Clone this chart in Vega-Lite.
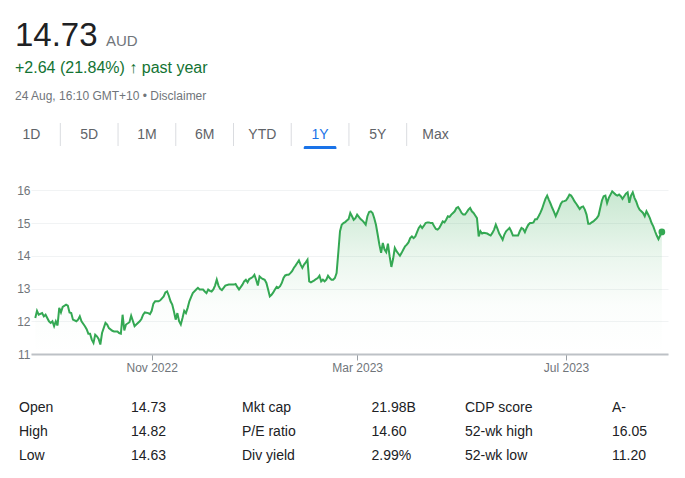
{
  "$schema": "https://vega.github.io/schema/vega-lite/v6.json",
  "background": "white",
  "padding": {"left": 15, "top": 0, "right": 0, "bottom": 0},
  "bounds": "flush",
  "spacing": 0,
  "config": {
    "view": {"stroke": null},
    "font": "Liberation Sans"
  },
  "datasets": {
    "tabs": [
      {"tab": "1D"}, {"tab": "5D"}, {"tab": "1M"}, {"tab": "6M"},
      {"tab": "YTD"}, {"tab": "1Y"}, {"tab": "5Y"}, {"tab": "Max"}
    ],
    "prices": [
      {"date":"2022-08-25","price":12.10},{"date":"2022-08-26","price":12.32},{"date":"2022-08-27","price":12.20},{"date":"2022-08-29","price":12.25},{"date":"2022-08-30","price":12.15},{"date":"2022-08-31","price":12.20},
      {"date":"2022-09-02","price":12.00},{"date":"2022-09-03","price":11.95},{"date":"2022-09-04","price":12.00},{"date":"2022-09-05","price":11.85},{"date":"2022-09-06","price":12.00},{"date":"2022-09-07","price":11.87},{"date":"2022-09-08","price":12.41},{"date":"2022-09-09","price":12.27},{"date":"2022-09-10","price":12.44},{"date":"2022-09-12","price":12.51},{"date":"2022-09-13","price":12.48},{"date":"2022-09-14","price":12.27},{"date":"2022-09-15","price":12.25},{"date":"2022-09-16","price":12.05},{"date":"2022-09-18","price":12.00},{"date":"2022-09-19","price":12.05},{"date":"2022-09-20","price":12.15},{"date":"2022-09-21","price":12.00},{"date":"2022-09-23","price":11.85},{"date":"2022-09-24","price":11.76},{"date":"2022-09-25","price":11.62},{"date":"2022-09-26","price":11.62},{"date":"2022-09-27","price":11.44},{"date":"2022-09-28","price":11.34},{"date":"2022-09-29","price":11.59},{"date":"2022-09-30","price":11.54},
      {"date":"2022-10-01","price":11.46},{"date":"2022-10-02","price":11.29},{"date":"2022-10-03","price":11.64},{"date":"2022-10-05","price":11.95},{"date":"2022-10-06","price":11.90},{"date":"2022-10-07","price":11.79},{"date":"2022-10-09","price":11.71},{"date":"2022-10-10","price":11.69},{"date":"2022-10-12","price":11.69},{"date":"2022-10-13","price":11.64},{"date":"2022-10-14","price":11.62},{"date":"2022-10-15","price":12.20},{"date":"2022-10-16","price":11.72},{"date":"2022-10-17","price":11.90},{"date":"2022-10-19","price":11.97},{"date":"2022-10-20","price":12.17},{"date":"2022-10-22","price":11.85},{"date":"2022-10-23","price":11.90},{"date":"2022-10-25","price":12.00},{"date":"2022-10-26","price":12.07},{"date":"2022-10-27","price":12.20},{"date":"2022-10-28","price":12.27},{"date":"2022-10-30","price":12.25},{"date":"2022-10-31","price":12.22},
      {"date":"2022-11-01","price":12.32},{"date":"2022-11-02","price":12.54},{"date":"2022-11-03","price":12.61},{"date":"2022-11-05","price":12.61},{"date":"2022-11-06","price":12.64},{"date":"2022-11-08","price":12.76},{"date":"2022-11-09","price":12.88},{"date":"2022-11-10","price":12.91},{"date":"2022-11-11","price":12.78},{"date":"2022-11-12","price":12.61},{"date":"2022-11-13","price":12.51},{"date":"2022-11-14","price":12.30},{"date":"2022-11-15","price":12.05},{"date":"2022-11-16","price":12.25},{"date":"2022-11-17","price":12.00},{"date":"2022-11-18","price":11.90},{"date":"2022-11-19","price":12.10},{"date":"2022-11-20","price":12.32},{"date":"2022-11-21","price":12.25},{"date":"2022-11-22","price":12.41},{"date":"2022-11-23","price":12.61},{"date":"2022-11-24","price":12.74},{"date":"2022-11-25","price":12.86},{"date":"2022-11-27","price":12.97},{"date":"2022-11-28","price":13.02},{"date":"2022-11-29","price":12.97},
      {"date":"2022-12-01","price":12.97},{"date":"2022-12-02","price":12.91},{"date":"2022-12-03","price":12.86},{"date":"2022-12-04","price":12.97},{"date":"2022-12-05","price":12.93},{"date":"2022-12-06","price":12.91},{"date":"2022-12-07","price":12.97},{"date":"2022-12-08","price":13.09},{"date":"2022-12-09","price":13.27},{"date":"2022-12-10","price":13.09},{"date":"2022-12-11","price":12.99},{"date":"2022-12-12","price":12.95},{"date":"2022-12-13","price":13.02},{"date":"2022-12-14","price":13.09},{"date":"2022-12-16","price":13.12},{"date":"2022-12-17","price":13.12},{"date":"2022-12-19","price":13.12},{"date":"2022-12-20","price":13.14},{"date":"2022-12-21","price":13.05},{"date":"2022-12-22","price":12.97},{"date":"2022-12-24","price":13.12},{"date":"2022-12-25","price":13.22},{"date":"2022-12-26","price":13.27},{"date":"2022-12-27","price":13.19},{"date":"2022-12-28","price":13.29},{"date":"2022-12-29","price":13.32},{"date":"2022-12-30","price":13.35},{"date":"2022-12-31","price":13.42},
      {"date":"2023-01-01","price":13.27},{"date":"2023-01-02","price":13.09},{"date":"2023-01-03","price":13.37},{"date":"2023-01-04","price":13.32},{"date":"2023-01-05","price":13.29},{"date":"2023-01-06","price":13.27},{"date":"2023-01-07","price":13.17},{"date":"2023-01-08","price":12.97},{"date":"2023-01-09","price":12.76},{"date":"2023-01-10","price":12.81},{"date":"2023-01-11","price":12.88},{"date":"2023-01-12","price":12.97},{"date":"2023-01-13","price":13.05},{"date":"2023-01-14","price":13.02},{"date":"2023-01-15","price":13.07},{"date":"2023-01-16","price":13.17},{"date":"2023-01-17","price":13.32},{"date":"2023-01-18","price":13.40},{"date":"2023-01-19","price":13.42},{"date":"2023-01-20","price":13.42},{"date":"2023-01-21","price":13.47},{"date":"2023-01-22","price":13.53},{"date":"2023-01-23","price":13.63},{"date":"2023-01-24","price":13.70},{"date":"2023-01-25","price":13.78},{"date":"2023-01-26","price":13.86},{"date":"2023-01-27","price":13.73},{"date":"2023-01-28","price":13.63},{"date":"2023-01-29","price":13.73},{"date":"2023-01-30","price":13.80},{"date":"2023-01-31","price":13.88},
      {"date":"2023-02-01","price":13.22},{"date":"2023-02-02","price":13.19},{"date":"2023-02-03","price":13.22},{"date":"2023-02-04","price":13.25},{"date":"2023-02-05","price":13.29},{"date":"2023-02-06","price":13.32},{"date":"2023-02-07","price":13.39},{"date":"2023-02-08","price":13.22},{"date":"2023-02-09","price":13.27},{"date":"2023-02-10","price":13.22},{"date":"2023-02-11","price":13.27},{"date":"2023-02-12","price":13.39},{"date":"2023-02-13","price":13.32},{"date":"2023-02-14","price":13.27},{"date":"2023-02-15","price":13.27},{"date":"2023-02-16","price":13.32},{"date":"2023-02-17","price":13.47},{"date":"2023-02-18","price":14.10},{"date":"2023-02-19","price":14.75},{"date":"2023-02-20","price":14.95},{"date":"2023-02-21","price":15.00},{"date":"2023-02-22","price":15.03},{"date":"2023-02-23","price":15.08},{"date":"2023-02-24","price":15.12},{"date":"2023-02-25","price":15.31},{"date":"2023-02-26","price":15.21},{"date":"2023-02-27","price":15.10},{"date":"2023-02-28","price":15.15},
      {"date":"2023-03-01","price":15.26},{"date":"2023-03-02","price":15.19},{"date":"2023-03-03","price":15.12},{"date":"2023-03-04","price":15.08},{"date":"2023-03-05","price":15.02},{"date":"2023-03-06","price":14.95},{"date":"2023-03-07","price":15.21},{"date":"2023-03-08","price":15.34},{"date":"2023-03-09","price":15.36},{"date":"2023-03-10","price":15.31},{"date":"2023-03-11","price":15.15},{"date":"2023-03-12","price":14.95},{"date":"2023-03-13","price":14.65},{"date":"2023-03-14","price":14.34},{"date":"2023-03-15","price":14.09},{"date":"2023-03-16","price":14.39},{"date":"2023-03-17","price":14.19},{"date":"2023-03-18","price":14.11},{"date":"2023-03-19","price":14.37},{"date":"2023-03-20","price":13.98},{"date":"2023-03-21","price":13.66},{"date":"2023-03-22","price":13.90},{"date":"2023-03-23","price":14.24},{"date":"2023-03-24","price":14.14},{"date":"2023-03-25","price":14.07},{"date":"2023-03-26","price":14.00},{"date":"2023-03-27","price":14.09},{"date":"2023-03-28","price":14.19},{"date":"2023-03-29","price":14.29},{"date":"2023-03-30","price":14.34},{"date":"2023-03-31","price":14.41},
      {"date":"2023-04-01","price":14.54},{"date":"2023-04-02","price":14.59},{"date":"2023-04-03","price":14.54},{"date":"2023-04-04","price":14.59},{"date":"2023-04-05","price":14.72},{"date":"2023-04-06","price":14.85},{"date":"2023-04-07","price":14.92},{"date":"2023-04-08","price":14.85},{"date":"2023-04-09","price":14.92},{"date":"2023-04-10","price":15.00},{"date":"2023-04-11","price":15.02},{"date":"2023-04-12","price":15.02},{"date":"2023-04-13","price":15.00},{"date":"2023-04-14","price":15.00},{"date":"2023-04-15","price":14.90},{"date":"2023-04-16","price":14.82},{"date":"2023-04-17","price":14.80},{"date":"2023-04-18","price":14.85},{"date":"2023-04-19","price":14.95},{"date":"2023-04-20","price":15.05},{"date":"2023-04-21","price":15.02},{"date":"2023-04-22","price":15.10},{"date":"2023-04-23","price":15.21},{"date":"2023-04-24","price":15.19},{"date":"2023-04-25","price":15.26},{"date":"2023-04-26","price":15.31},{"date":"2023-04-27","price":15.36},{"date":"2023-04-28","price":15.46},{"date":"2023-04-29","price":15.49},{"date":"2023-04-30","price":15.41},
      {"date":"2023-05-01","price":15.31},{"date":"2023-05-02","price":15.26},{"date":"2023-05-03","price":15.26},{"date":"2023-05-04","price":15.33},{"date":"2023-05-05","price":15.41},{"date":"2023-05-06","price":15.46},{"date":"2023-05-07","price":15.36},{"date":"2023-05-08","price":15.31},{"date":"2023-05-09","price":15.23},{"date":"2023-05-10","price":15.15},{"date":"2023-05-11","price":14.59},{"date":"2023-05-12","price":14.75},{"date":"2023-05-13","price":14.68},{"date":"2023-05-14","price":14.70},{"date":"2023-05-16","price":14.68},{"date":"2023-05-17","price":14.65},{"date":"2023-05-18","price":14.62},{"date":"2023-05-19","price":14.70},{"date":"2023-05-20","price":14.80},{"date":"2023-05-21","price":14.95},{"date":"2023-05-22","price":14.82},{"date":"2023-05-23","price":14.68},{"date":"2023-05-24","price":14.59},{"date":"2023-05-25","price":14.49},{"date":"2023-05-26","price":14.65},{"date":"2023-05-27","price":14.75},{"date":"2023-05-28","price":14.80},{"date":"2023-05-29","price":14.85},{"date":"2023-05-30","price":14.75},{"date":"2023-05-31","price":14.62},
      {"date":"2023-06-01","price":14.62},{"date":"2023-06-02","price":14.62},{"date":"2023-06-03","price":14.62},{"date":"2023-06-04","price":14.75},{"date":"2023-06-05","price":14.85},{"date":"2023-06-06","price":14.82},{"date":"2023-06-07","price":14.72},{"date":"2023-06-08","price":14.85},{"date":"2023-06-09","price":14.95},{"date":"2023-06-10","price":15.00},{"date":"2023-06-11","price":15.00},{"date":"2023-06-12","price":15.02},{"date":"2023-06-13","price":15.12},{"date":"2023-06-14","price":15.12},{"date":"2023-06-15","price":15.21},{"date":"2023-06-16","price":15.31},{"date":"2023-06-17","price":15.43},{"date":"2023-06-18","price":15.59},{"date":"2023-06-19","price":15.74},{"date":"2023-06-20","price":15.84},{"date":"2023-06-21","price":15.71},{"date":"2023-06-22","price":15.59},{"date":"2023-06-23","price":15.46},{"date":"2023-06-24","price":15.34},{"date":"2023-06-25","price":15.21},{"date":"2023-06-26","price":15.33},{"date":"2023-06-27","price":15.46},{"date":"2023-06-28","price":15.59},{"date":"2023-06-29","price":15.66},{"date":"2023-06-30","price":15.67},
      {"date":"2023-07-01","price":15.69},{"date":"2023-07-02","price":15.77},{"date":"2023-07-03","price":15.87},{"date":"2023-07-04","price":15.84},{"date":"2023-07-05","price":15.76},{"date":"2023-07-06","price":15.66},{"date":"2023-07-07","price":15.59},{"date":"2023-07-08","price":15.51},{"date":"2023-07-09","price":15.43},{"date":"2023-07-10","price":15.49},{"date":"2023-07-11","price":15.51},{"date":"2023-07-12","price":15.41},{"date":"2023-07-13","price":15.26},{"date":"2023-07-14","price":14.98},{"date":"2023-07-15","price":14.98},{"date":"2023-07-16","price":15.02},{"date":"2023-07-17","price":15.05},{"date":"2023-07-18","price":15.10},{"date":"2023-07-19","price":15.15},{"date":"2023-07-20","price":15.23},{"date":"2023-07-21","price":15.46},{"date":"2023-07-22","price":15.69},{"date":"2023-07-23","price":15.82},{"date":"2023-07-24","price":15.84},{"date":"2023-07-25","price":15.61},{"date":"2023-07-26","price":15.77},{"date":"2023-07-27","price":15.87},{"date":"2023-07-28","price":15.97},{"date":"2023-07-29","price":15.92},{"date":"2023-07-30","price":15.87},{"date":"2023-07-31","price":15.84},
      {"date":"2023-08-01","price":15.87},{"date":"2023-08-02","price":15.82},{"date":"2023-08-03","price":15.74},{"date":"2023-08-04","price":15.82},{"date":"2023-08-05","price":15.90},{"date":"2023-08-06","price":15.94},{"date":"2023-08-07","price":15.62},{"date":"2023-08-08","price":15.84},{"date":"2023-08-09","price":15.94},{"date":"2023-08-10","price":15.77},{"date":"2023-08-11","price":15.66},{"date":"2023-08-12","price":15.51},{"date":"2023-08-13","price":15.41},{"date":"2023-08-14","price":15.36},{"date":"2023-08-15","price":15.31},{"date":"2023-08-16","price":15.21},{"date":"2023-08-17","price":15.36},{"date":"2023-08-18","price":15.26},{"date":"2023-08-19","price":15.15},{"date":"2023-08-20","price":15.00},{"date":"2023-08-21","price":14.90},{"date":"2023-08-22","price":14.75},{"date":"2023-08-23","price":14.62},{"date":"2023-08-24","price":14.51},{"date":"2023-08-25","price":14.62},{"date":"2023-08-26","price":14.73}
    ],
    "stats": [
      {"col": "c1", "row": "r1", "label": "Open", "value": "14.73"},
      {"col": "c1", "row": "r2", "label": "High", "value": "14.82"},
      {"col": "c1", "row": "r3", "label": "Low", "value": "14.63"},
      {"col": "c2", "row": "r1", "label": "Mkt cap", "value": "21.98B"},
      {"col": "c2", "row": "r2", "label": "P/E ratio", "value": "14.60"},
      {"col": "c2", "row": "r3", "label": "Div yield", "value": "2.99%"},
      {"col": "c3", "row": "r1", "label": "CDP score", "value": "A-"},
      {"col": "c3", "row": "r2", "label": "52-wk high", "value": "16.05"},
      {"col": "c3", "row": "r3", "label": "52-wk low", "value": "11.20"}
    ],
    "header": [
      {"part": "price", "slot": "main", "line": "l1", "text": "14.73"},
      {"part": "currency", "slot": "unit", "line": "l1", "text": "AUD"},
      {"part": "change", "slot": "main", "line": "l2", "text": "+2.64 (21.84%) ↑ past year"},
      {"part": "time", "slot": "main", "line": "l3", "text": "24 Aug, 16:10 GMT+10 • Disclaimer"}
    ]
  },
  "vconcat": [
    {
      "width": 654,
      "height": 123,
      "data": {"name": "header"},
      "encoding": {
        "x": {"field": "slot", "type": "ordinal", "axis": null,
              "scale": {"type": "point", "domain": ["main", "unit"], "range": [-16, 75], "padding": 0}},
        "y": {"field": "line", "type": "ordinal", "axis": null,
              "scale": {"type": "point", "domain": ["l1", "l2", "l3"], "range": [46, 100], "padding": 0}},
        "text": {"field": "text"}
      },
      "layer": [
        {"transform": [{"filter": "datum.part === 'price'"}],
         "mark": {"type": "text", "align": "left", "baseline": "alphabetic", "fontSize": 33, "color": "#202124"}},
        {"transform": [{"filter": "datum.part === 'currency'"}],
         "mark": {"type": "text", "align": "left", "baseline": "alphabetic", "fontSize": 15, "color": "#70757a"}},
        {"transform": [{"filter": "datum.part === 'change'"}],
         "mark": {"type": "text", "align": "left", "baseline": "alphabetic", "fontSize": 16, "color": "#137333"}},
        {"transform": [{"filter": "datum.part === 'time'"}],
         "mark": {"type": "text", "align": "left", "baseline": "alphabetic", "fontSize": 12, "color": "#70757a"}}
      ]
    },
    {
      "width": 654,
      "height": 23,
      "data": {"name": "tabs"},
      "encoding": {
        "x": {"field": "tab", "type": "nominal", "axis": null,
              "scale": {"type": "band", "domain": ["1D", "5D", "1M", "6M", "YTD", "1Y", "5Y", "Max"], "range": [-28.4, 433.4], "paddingInner": 0, "paddingOuter": 0}}
      },
      "layer": [
        {"transform": [{"filter": "datum.tab !== '1D'"}],
         "mark": {"type": "rule", "color": "#dadce0", "strokeWidth": 1},
         "encoding": {"x": {"field": "tab", "type": "nominal", "bandPosition": 0}}},
        {"mark": {"type": "text", "fontSize": 14, "baseline": "middle"},
         "encoding": {
           "text": {"field": "tab"},
           "color": {"condition": {"test": "datum.tab === '1Y'", "value": "#1a73e8"}, "value": "#5f6368"}
         }}
      ]
    },
    {
      "width": 654,
      "height": 3,
      "data": {"name": "tabs"},
      "transform": [{"filter": "datum.tab === '1Y'"}],
      "mark": {"type": "bar", "color": "#1a73e8", "width": {"band": 0.566}, "cornerRadiusTopLeft": 3, "cornerRadiusTopRight": 3},
      "encoding": {
        "x": {"field": "tab", "type": "nominal", "axis": null,
              "scale": {"type": "band", "domain": ["1D", "5D", "1M", "6M", "YTD", "1Y", "5Y", "Max"], "range": [-28.4, 433.4], "paddingInner": 0, "paddingOuter": 0}}
      }
    },
    {
      "width": 637,
      "height": 205,
      "data": {"name": "prices"},
      "encoding": {
        "x": {"field": "date", "type": "temporal",
              "scale": {"domain": [{"year": 2022, "month": 8, "date": 22, "hours": 12}, {"year": 2023, "month": 8, "date": 29, "hours": 14}], "nice": false},
              "axis": {"values": [{"year": 2022, "month": 11, "date": 1}, {"year": 2023, "month": 3, "date": 1}, {"year": 2023, "month": 7, "date": 1}],
                       "format": "%b %Y", "title": null, "grid": false,
                       "domainColor": "#bdc1c6", "domainWidth": 2, "tickColor": "#9aa0a6", "tickSize": 6, "tickWidth": 1,
                       "labelColor": "#70757a", "labelFontSize": 12, "labelPadding": 2, "labelFlush": false}},
        "y": {"field": "price", "type": "quantitative",
              "scale": {"domain": [11, 17.263], "nice": false, "zero": false},
              "axis": {"values": [11, 12, 13, 14, 15, 16], "title": null, "domain": false, "ticks": false, "tickSize": 0,
                       "grid": true, "gridColor": "#f1f3f4", "gridWidth": 1,
                       "labelColor": "#70757a", "labelFontSize": 12, "labelPadding": 1}}
      },
      "layer": [
        {"mark": {"type": "area", "line": false,
                  "color": {"gradient": "linear", "x1": 0, "y1": 0, "x2": 0, "y2": 1,
                            "stops": [{"offset": 0, "color": "rgba(52,168,83,0.27)"},
                                      {"offset": 0.4, "color": "rgba(52,168,83,0.10)"},
                                      {"offset": 0.7, "color": "rgba(52,168,83,0.02)"},
                                      {"offset": 1, "color": "rgba(52,168,83,0)"}]}},
         "encoding": {"y2": {"datum": 11}}},
        {"mark": {"type": "line", "color": "#34a853", "strokeWidth": 2}},
        {"transform": [{"window": [{"op": "row_number", "as": "rn"}], "sort": [{"field": "date", "order": "descending"}]},
                       {"filter": "datum.rn === 1"}],
         "mark": {"type": "point", "filled": true, "size": 45, "color": "#34a853", "opacity": 1}}
      ]
    },
    {
      "width": 654,
      "height": 124,
      "data": {"name": "stats"},
      "encoding": {
        "y": {"field": "row", "type": "ordinal", "axis": null,
              "scale": {"type": "point", "domain": ["r1", "r2", "r3"], "range": [54, 102], "padding": 0}}
      },
      "layer": [
        {"mark": {"type": "text", "align": "left", "baseline": "middle", "fontSize": 14, "color": "#202124"},
         "encoding": {
           "x": {"field": "col", "type": "ordinal", "axis": null,
                 "scale": {"type": "point", "domain": ["c1", "c2", "c3"], "range": [-12, 434], "padding": 0}},
           "text": {"field": "label"}}},
        {"mark": {"type": "text", "align": "left", "baseline": "middle", "fontSize": 14, "color": "#202124"},
         "encoding": {
           "x": {"field": "col", "type": "ordinal", "axis": null,
                 "scale": {"type": "point", "domain": ["c1", "c2", "c3"], "range": [100, 581], "padding": 0}},
           "text": {"field": "value"}}}
      ],
      "resolve": {"scale": {"x": "independent"}}
    }
  ]
}
